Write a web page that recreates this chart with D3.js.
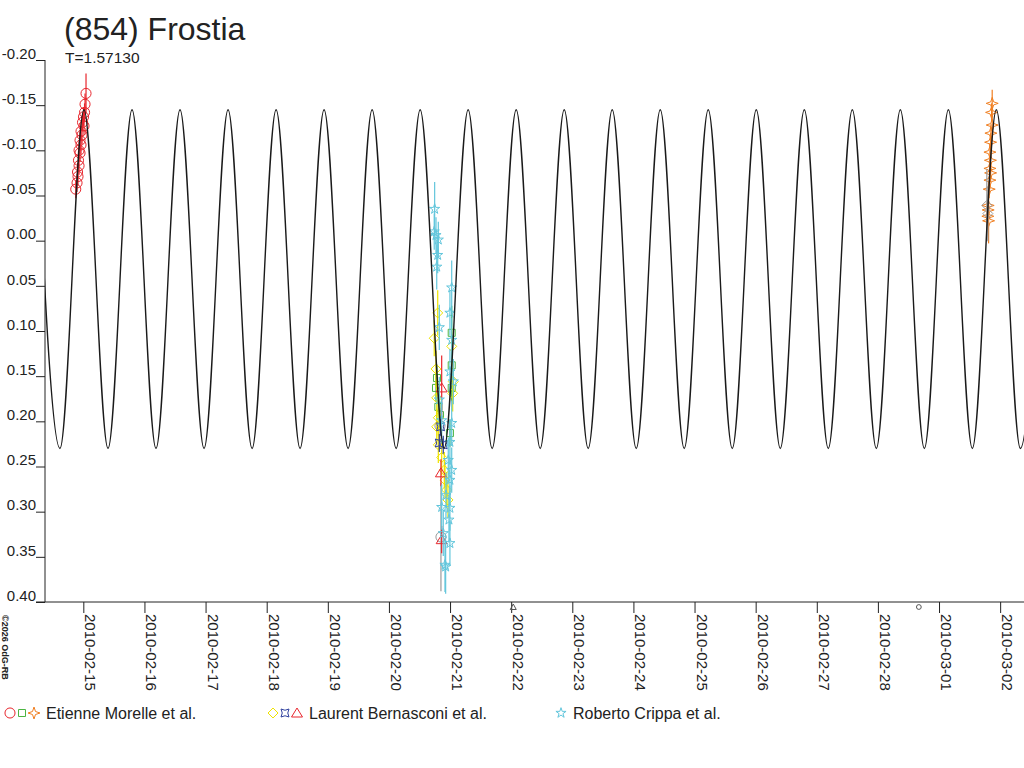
<!DOCTYPE html>
<html>
<head>
<meta charset="utf-8">
<script src="https://cdn.jsdelivr.net/npm/d3@7"></script>
<style>
  body { margin: 0; background: #fff; }
  svg { display: block; font-family: "Liberation Sans", Arial, sans-serif; }
</style>
</head>
<body>
<div id="chart"></div>
<script>
const TITLE = "(854) Frostia"
const PERIOD_LABEL = "T=1.57130"
const COPYRIGHT = "\u00a92026 OdG-RB"
const BASE_DAY = Date.UTC(2010, 1, 15)
const X_DOMAIN = ["2010-02-14T08:57:00Z", "2010-03-02T09:22:00Z"]
const Y_TICKS = [-0.20, -0.15, -0.10, -0.05, 0.00, 0.05, 0.10, 0.15, 0.20, 0.25, 0.30, 0.35, 0.40]

// model lightcurve extrema (days after 2010-02-15)
const CURVE_MAX_MAG = -0.145
const CURVE_MIN_MAG = 0.230
const curvePeaks = [-0.775, 0.011, 0.797, 1.582, 2.368, 3.154, 3.939, 4.725, 5.511, 6.296, 7.082,
  7.868, 8.653, 9.439, 10.224, 11.010, 11.796, 12.581, 13.367, 14.153, 14.938, 15.724]
const curveTroughs = [-0.382, 0.404, 1.189, 1.975, 2.761, 3.546, 4.332, 5.118, 5.903, 6.689,
  7.475, 8.260, 9.046, 9.831, 10.617, 11.403, 12.188, 12.974, 13.760, 14.545, 15.331]

// observations: [days after 2010-02-15, magnitude, error]
const morelleCircles = [
  [0.044, -0.163, 0.022], [0.028, -0.151, 0.012], [0.020, -0.142, 0.010], [0.003, -0.137, 0.010],
  [-0.013, -0.131, 0.010], [0.011, -0.127, 0.010], [-0.038, -0.121, 0.010], [-0.021, -0.117, 0.010],
  [-0.054, -0.111, 0.010], [-0.038, -0.106, 0.010], [-0.070, -0.100, 0.010], [-0.054, -0.097, 0.010],
  [-0.079, -0.089, 0.010], [-0.070, -0.083, 0.010], [-0.095, -0.076, 0.010], [-0.087, -0.071, 0.010],
  [-0.103, -0.064, 0.010], [-0.124, -0.057, 0.010]
]
const morelleSquares = [
  [6.027, 0.102, 0.030], [6.027, 0.138, 0.015], [5.770, 0.163, 0.015], [6.027, 0.163, 0.015],
  [5.808, 0.184, 0.015], [5.835, 0.193, 0.015], [5.998, 0.213, 0.015], [5.786, 0.152, 0.015]
]
const morelleStars = [
  [14.870, -0.152, 0.015], [14.860, -0.142, 0.010], [14.870, -0.128, 0.010], [14.849, -0.119, 0.010],
  [14.844, -0.109, 0.010], [14.833, -0.098, 0.010], [14.841, -0.089, 0.010], [14.833, -0.080, 0.010],
  [14.844, -0.075, 0.010], [14.833, -0.067, 0.010], [14.821, -0.057, 0.010], [14.804, -0.039, 0.012],
  [14.804, -0.034, 0.012], [14.799, -0.027, 0.015], [14.811, -0.022, 0.025]
]
const bernasconiDiamonds = [
  [5.798, 0.080, 0.025], [5.741, 0.108, 0.020], [6.027, 0.117, 0.020], [5.770, 0.142, 0.020],
  [6.053, 0.156, 0.020], [6.043, 0.169, 0.020], [5.782, 0.174, 0.020], [5.808, 0.196, 0.020],
  [5.782, 0.206, 0.020], [5.808, 0.226, 0.020], [5.863, 0.240, 0.020], [5.906, 0.254, 0.020],
  [5.917, 0.265, 0.020], [5.944, 0.276, 0.020], [5.966, 0.287, 0.020]
]
const bernasconiCrosses = [
  [5.824, 0.224, 0.010], [5.889, 0.226, 0.010], [5.845, 0.206, 0.010]
]
const bernasconiTriangles = [
  [5.851, 0.257, 0.015], [5.863, 0.163, 0.036], [5.863, 0.331, 0.015]
]
const crippaStars = [
  [5.748, -0.035, 0.030], [5.741, -0.010, 0.020], [5.770, -0.006, 0.020], [5.808, -0.001, 0.020],
  [5.798, 0.016, 0.020], [5.782, 0.029, 0.025], [6.027, 0.052, 0.030], [5.998, 0.080, 0.025],
  [5.824, 0.096, 0.025], [6.027, 0.110, 0.025], [5.998, 0.145, 0.025], [6.053, 0.156, 0.025],
  [5.824, 0.176, 0.025], [5.863, 0.199, 0.025], [6.027, 0.202, 0.025], [5.998, 0.223, 0.025],
  [5.971, 0.243, 0.025], [6.027, 0.254, 0.025], [5.998, 0.265, 0.025], [5.933, 0.282, 0.025],
  [5.863, 0.295, 0.025], [5.998, 0.296, 0.025], [5.982, 0.309, 0.025], [5.889, 0.324, 0.025],
  [5.998, 0.335, 0.025], [5.917, 0.359, 0.030], [5.928, 0.361, 0.030]
]
const rejectedCircles = [[5.835, 0.205, 0.020], [5.851, 0.328, 0.060]]
const rejectedDiamonds = [[14.782, -0.039, 0.040], [14.799, -0.030, 0.030]]

// marks under the time axis (days after 2010-02-15)
const axisMarks = [[7.034, "triangleSmall"], [13.67, "circleSmall"]]

const OBSERVERS = ["Etienne Morelle et al.", "Laurent Bernasconi et al.", "Roberto Crippa et al."]

const COLORS = {
  red: "#e8262d", green: "#4cb543", orange: "#f07f22", yellow: "#efe300",
  blue: "#2e3f9e", cyan: "#62c6dc", gray: "#9a9a9a", ink: "#222"
}

const SHAPES = {
  circle: d3.symbol(d3.symbolCircle, 80)(),
  square: d3.symbol(d3.symbolSquare, 49)(),
  star4: "M0,-6L1.5,-1.5L6,0L1.5,1.5L0,6L-1.5,1.5L-6,0L-1.5,-1.5Z",
  diamond: "M0,-5L5,0L0,5L-5,0Z",
  cross: "M-4,-4Q0,-1.5 4,-4Q1.5,0 4,4Q0,1.5 -4,4Q-1.5,0 -4,-4Z",
  triangle: "M0,-5L5.5,4L-5.5,4Z",
  star: d3.symbol(d3.symbolStar, 32)(),
  triangleSmall: "M0,-3L3,2.5L-3,2.5Z",
  circleSmall: d3.symbol(d3.symbolCircle, 18)()
}

const series = [
  { data: morelleCircles, shape: "circle", color: COLORS.red },
  { data: morelleSquares, shape: "square", color: COLORS.green },
  { data: morelleStars, shape: "star4", color: COLORS.orange },
  { data: rejectedCircles, shape: "circle", color: COLORS.gray },
  { data: rejectedDiamonds, shape: "diamond", color: COLORS.gray },
  { data: bernasconiDiamonds, shape: "diamond", color: COLORS.yellow },
  { data: bernasconiCrosses, shape: "cross", color: COLORS.blue },
  { data: bernasconiTriangles, shape: "triangle", color: COLORS.red },
  { data: crippaStars, shape: "star", color: COLORS.cyan }
]

const legend = [
  { label: OBSERVERS[0], x: 10, symbols: [["circle", COLORS.red], ["square", COLORS.green], ["star4", COLORS.orange]] },
  { label: OBSERVERS[1], x: 273, symbols: [["diamond", COLORS.yellow], ["cross", COLORS.blue], ["triangle", COLORS.red]] },
  { label: OBSERVERS[2], x: 561, symbols: [["star", COLORS.cyan]] }
]

const WIDTH = 1024, HEIGHT = 768
const PLOT = { LEFT: 45, RIGHT: 1024, TOP: 60, BOTTOM: 602 }

const toDate = (d) => new Date(BASE_DAY + d * 864e5)

const svg = d3.select("#chart").append("svg")
  .attr("width", WIDTH)
  .attr("height", HEIGHT)

const x = d3.scaleUtc()
  .domain(X_DOMAIN.map((d) => new Date(d)))
  .range([PLOT.LEFT, PLOT.RIGHT])

const y = d3.scaleLinear()
  .domain([-0.20, 0.40])
  .range([PLOT.TOP, PLOT.BOTTOM])

svg.append("defs").append("clipPath").attr("id", "plot-clip")
  .append("rect")
  .attr("x", PLOT.LEFT).attr("y", 0)
  .attr("width", PLOT.RIGHT - PLOT.LEFT).attr("height", PLOT.BOTTOM)

// title
svg.append("text")
  .attr("x", 64).attr("y", 40)
  .attr("font-size", 32)
  .attr("fill", COLORS.ink)
  .text(TITLE)

svg.append("text")
  .attr("x", 65).attr("y", 63)
  .attr("font-size", 15.5)
  .attr("fill", COLORS.ink)
  .text(PERIOD_LABEL)

// axes
const yAxis = svg.append("g")
  .attr("transform", `translate(${PLOT.LEFT},0)`)
  .call(d3.axisLeft(y).tickValues(Y_TICKS).tickSize(9).tickSizeOuter(0).tickPadding(0)
    .tickFormat((d) => d.toFixed(2)))

yAxis.select(".domain").remove()
yAxis.selectAll("line").attr("stroke", COLORS.ink)
yAxis.selectAll("text")
  .attr("font-size", 15)
  .attr("font-family", null)
  .attr("fill", COLORS.ink)
  .attr("dy", "-0.12em")

const xAxis = svg.append("g")
  .attr("transform", `translate(0,${PLOT.BOTTOM})`)
  .call(d3.axisBottom(x).ticks(d3.utcDay.every(1)).tickSize(11).tickSizeOuter(0)
    .tickFormat(d3.utcFormat("%Y-%m-%d")))

xAxis.select(".domain").remove()
xAxis.selectAll("line").attr("stroke", COLORS.ink)
xAxis.selectAll("text")
  .attr("font-size", 15)
  .attr("font-family", null)
  .attr("fill", COLORS.ink)
  .attr("y", 0).attr("dy", 0)
  .attr("text-anchor", "start")
  .attr("transform", "translate(1.5,12) rotate(90)")

svg.append("line")
  .attr("x1", PLOT.LEFT).attr("x2", PLOT.LEFT)
  .attr("y1", PLOT.TOP).attr("y2", PLOT.BOTTOM)
  .attr("stroke", COLORS.ink)

svg.append("line")
  .attr("x1", PLOT.LEFT - 9).attr("x2", PLOT.RIGHT)
  .attr("y1", PLOT.BOTTOM).attr("y2", PLOT.BOTTOM)
  .attr("stroke", COLORS.ink)

svg.append("text")
  .attr("transform", `translate(2,615) rotate(90)`)
  .attr("font-size", 9)
  .attr("font-weight", "bold")
  .attr("fill", COLORS.ink)
  .text(COPYRIGHT)

// observations
const plot = svg.append("g").attr("clip-path", "url(#plot-clip)")

series.forEach((s) => {
  const g = plot.append("g")
  g.selectAll(".err")
    .data(s.data)
    .enter()
    .append("line")
    .attr("class", "err")
    .attr("x1", (d) => x(toDate(d[0])))
    .attr("x2", (d) => x(toDate(d[0])))
    .attr("y1", (d) => y(d[1] - d[2]))
    .attr("y2", (d) => y(d[1] + d[2]))
    .attr("stroke", s.color)
    .attr("stroke-width", 1.2)

  g.selectAll(".pt")
    .data(s.data)
    .enter()
    .append("path")
    .attr("class", "pt")
    .attr("d", SHAPES[s.shape])
    .attr("transform", (d) => `translate(${x(toDate(d[0]))},${y(d[1])})`)
    .attr("fill", "none")
    .attr("stroke", s.color)
    .attr("stroke-width", 1)
})

// model curve
const curvePoints = curvePeaks.map((d) => [d, CURVE_MAX_MAG])
  .concat(curveTroughs.map((d) => [d, CURVE_MIN_MAG]))
  .sort((a, b) => a[0] - b[0])

plot.append("path")
  .datum(curvePoints)
  .attr("d", d3.line()
    .x((d) => x(toDate(d[0])))
    .y((d) => y(d[1]))
    .curve(d3.curveMonotoneX))
  .attr("fill", "none")
  .attr("stroke", "#1a1a1a")
  .attr("stroke-width", 1.4)

// marks below the axis
svg.selectAll(".mark")
  .data(axisMarks)
  .enter()
  .append("path")
  .attr("class", "mark")
  .attr("d", (d) => SHAPES[d[1]])
  .attr("transform", (d) => `translate(${x(toDate(d[0]))},607)`)
  .attr("fill", "none")
  .attr("stroke", "#555")

// legend
const leg = svg.selectAll(".leg")
  .data(legend)
  .enter()
  .append("g")
  .attr("class", "leg")
  .attr("transform", (d) => `translate(${d.x},713)`)

leg.selectAll("path")
  .data((d) => d.symbols)
  .enter()
  .append("path")
  .attr("d", (d) => SHAPES[d[0]])
  .attr("transform", (d, i) => `translate(${i * 12},0)`)
  .attr("fill", "none")
  .attr("stroke", (d) => d[1])

leg.append("text")
  .attr("x", (d) => d.symbols.length * 12)
  .attr("y", 6)
  .attr("font-size", 16)
  .attr("fill", COLORS.ink)
  .text((d) => d.label)
</script>
</body>
</html>
